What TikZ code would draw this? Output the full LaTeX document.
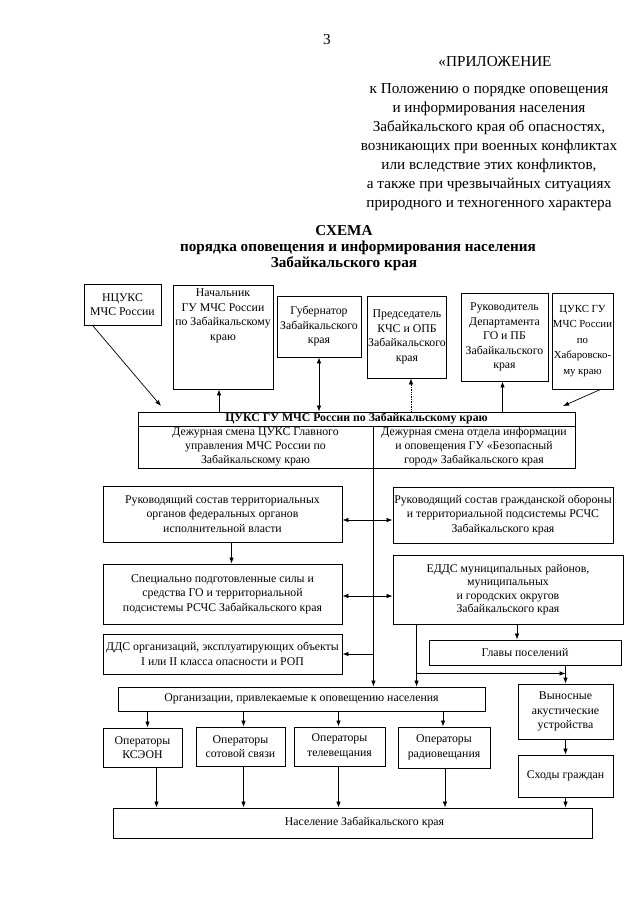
\documentclass[tikz,border=0pt]{standalone}
\usepackage{fontspec}
\setmainfont{Liberation Serif}
\usetikzlibrary{arrows.meta}
\tikzstyle{box} = [rectangle, draw=black, line width=0.9pt, align=center, inner sep=1pt, font=\fontsize{11.8}{14.5}\selectfont]
\tikzstyle{head} = [align=center, inner sep=0pt, font=\fontsize{15.2}{19}\selectfont]
\tikzstyle{title} = [align=center, inner sep=0pt, font=\fontsize{15.2}{16.5}\selectfont\bfseries]
\tikzstyle{arrow} = [line width=0.7pt, -{Latex[length=6pt,width=4.5pt]}]
\tikzstyle{darrow} = [line width=0.7pt, {Latex[length=6pt,width=4.5pt]}-{Latex[length=6pt,width=4.5pt]}]
\tikzstyle{dotarrow} = [arrow, densely dotted]

\begin{document}
\begin{tikzpicture}[x=1pt,y=-1pt]
\useasboundingbox (0,0) rectangle (640,905);

% heading
\node (page) [head] at (327,40) {3};
\node (pril) [head] at (495,62) {«ПРИЛОЖЕНИЕ};
\node (polozh) [head] at (489,147) {к Положению о порядке оповещения\\и информирования населения\\Забайкальского края об опасностях,\\возникающих при военных конфликтах\\или вследствие этих конфликтов,\\а также при чрезвычайных ситуациях\\природного и техногенного характера};
\node (schema) [title] at (344,231) {СХЕМА};
\node (poryadok) [title] at (358,247.5) {порядка оповещения и информирования населения};
\node (kray) [title] at (344,264) {Забайкальского края};

% top row
\node (ncuks) [box, minimum width=77pt, minimum height=41pt] at (122.5,304.5) {НЦУКС\\МЧС России};
\node (nach) [box, inner ysep=4pt] at (223,337) {\parbox[c][96pt][t]{98pt}{\centering Начальник\\ГУ МЧС России\\по Забайкальскому\\краю}};
\node (gub) [box, minimum width=84pt, minimum height=61pt] at (319,326.5) {Губернатор\\Забайкальского\\края};
\node (pred) [box, minimum width=78pt, minimum height=82pt] at (407,337) {Председатель\\КЧС и ОПБ\\Забайкальского\\края};
\node (ruk) [box, minimum width=87pt, minimum height=88pt] at (504.5,337) {Руководитель\\Департамента\\ГО и ПБ\\Забайкальского\\края};
\node (khab) [box, minimum width=61pt, minimum height=96pt, font=\fontsize{10.8}{15.5}\selectfont] at (582.5,341) {ЦУКС ГУ\\МЧС России\\по\\Хабаровско-\\му краю};

% central box
\node (cuks) [box, minimum width=437pt, minimum height=14pt, font=\fontsize{11.8}{14}\selectfont\bfseries] at (356.5,419) {ЦУКС ГУ МЧС России по Забайкальскому краю};
\node (smenaL) [box, minimum width=235pt, minimum height=42pt, font=\fontsize{11.8}{14}\selectfont] at (255.5,447) {Дежурная смена ЦУКС Главного\\управления МЧС России по\\Забайкальскому краю};
\node (smenaR) [box, minimum width=202pt, minimum height=42pt, font=\fontsize{11.8}{14}\selectfont] at (474,447) {Дежурная смена отдела информации\\и оповещения ГУ «Безопасный\\город» Забайкальского края};
\coordinate (in1) at (161,406);
\coordinate (in2) at (563,406);

% left column
\node (ruk1) [box, minimum width=239pt, minimum height=56pt] at (222.5,514) {Руководящий состав территориальных\\органов федеральных органов\\исполнительной власти};
\node (spec) [box, minimum width=239pt, minimum height=60pt] at (222.5,594) {Специально подготовленные силы и\\средства ГО и территориальной\\подсистемы РСЧС Забайкальского края};
\node (dds) [box, minimum width=239pt, minimum height=40pt, inner xsep=0pt] at (222.5,654) {ДДС организаций, эксплуатирующих объекты\\I или II класса опасности и РОП};

% right column
\node (ruk2) [box, minimum width=220pt, minimum height=56pt] at (503,515) {Руководящий состав гражданской обороны\\и территориальной подсистемы РСЧС\\Забайкальского края};
\node (edds) [box, minimum width=230pt, minimum height=69pt, font=\fontsize{11.8}{13.5}\selectfont] at (508,589.5) {ЕДДС муниципальных районов,\\муниципальных\\и городских округов\\Забайкальского края};
\node (glavy) [box, minimum width=192pt, minimum height=25pt] at (525,652.5) {Главы поселений};
\node (vyn) [box, minimum width=95pt, minimum height=55pt] at (565.5,711.5) {Выносные\\акустические\\устройства};
\node (shody) [box, minimum width=95pt, minimum height=42pt] at (565.5,776) {Сходы граждан};

% bottom
\node (org) [box, minimum width=367pt, minimum height=24pt] at (301.5,699) {Организации, привлекаемые к оповещению населения};
\node (op1) [box, minimum width=79pt, minimum height=39pt] at (142.5,747.5) {Операторы\\КСЭОН};
\node (op2) [box, minimum width=89pt, minimum height=39pt] at (240.5,746.5) {Операторы\\сотовой связи};
\node (op3) [box, minimum width=91pt, minimum height=39pt] at (339.5,746.5) {Операторы\\телевещания};
\node (op4) [box, minimum width=92pt, minimum height=41pt] at (444,747.5) {Операторы\\радиовещания};
\node (nasel) [box, minimum width=479pt, minimum height=30pt] at (352.5,823) {\hspace*{24pt}Население Забайкальского края};

% connectors to the top row
\draw [arrow] ([xshift=9pt]ncuks.south west) -- (in1);
\draw [arrow] ([xshift=-4pt]nach.south |- cuks.north) -- ([xshift=-4pt]nach.south);
\draw [darrow] (gub.south) -- (gub.south |- cuks.north);
\draw [dotarrow] ([xshift=4pt]pred.south |- cuks.north) -- ([xshift=4pt]pred.south);
\draw [arrow] ([xshift=-2pt]ruk.south |- cuks.north) -- ([xshift=-2pt]ruk.south);
\draw [arrow] ([xshift=18pt]khab.south) -- (in2);

% spine
\coordinate (spine) at (smenaL.south east);
\draw [arrow] (spine) -- (spine |- org.north);
\draw [darrow] ([yshift=-6pt]ruk1.east) -- ([yshift=-6pt]ruk1.east -| ruk2.west);
\draw [darrow] ([yshift=-2pt]spec.east) -- ([yshift=-2pt]spec.east -| edds.west);
\draw [arrow] (dds.east -| spine) -- (dds.east);
\draw [arrow] ([xshift=9pt]ruk1.south) -- ([xshift=9pt]spec.north);

% right branch
\coordinate (edout) at ([xshift=24pt]edds.south west);
\coordinate (branch) at ([yshift=-49pt]edout);
\draw [arrow] (edout) -- (edout |- org.north);
\draw [arrow] (branch) -- (branch -| vyn.north);
\draw [arrow] ([xshift=-8pt]glavy.north |- edds.south) -- ([xshift=-8pt]glavy.north);
\draw [arrow] (glavy.south -| vyn.north) -- (vyn.north);
\draw [arrow] (vyn.south) -- (shody.north);
\draw [arrow] (shody.south) -- (shody.south |- nasel.north);

% operators
\draw [arrow] ([xshift=5pt]op1.north |- org.south) -- ([xshift=5pt]op1.north);
\draw [arrow] ([xshift=3pt]op2.north |- org.south) -- ([xshift=3pt]op2.north);
\draw [arrow] ([xshift=-1pt]op3.north |- org.south) -- ([xshift=-1pt]op3.north);
\draw [arrow] ([xshift=-1pt]op4.north |- org.south) -- ([xshift=-1pt]op4.north);
\draw [arrow] ([xshift=14pt]op1.south) -- ([xshift=14pt]op1.south |- nasel.north);
\draw [arrow] ([xshift=3pt]op2.south) -- ([xshift=3pt]op2.south |- nasel.north);
\draw [arrow] ([xshift=-1pt]op3.south) -- ([xshift=-1pt]op3.south |- nasel.north);
\draw [arrow] ([xshift=1pt]op4.south) -- ([xshift=1pt]op4.south |- nasel.north);
\end{tikzpicture}
\end{document}
